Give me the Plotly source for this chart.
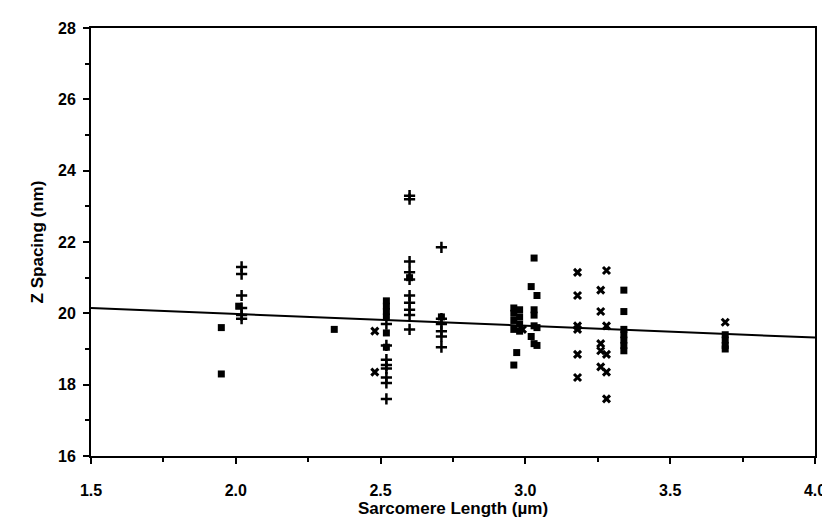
import plotly.graph_objects as go

# Square markers
sq_x = [1.95, 1.95, 2.01, 2.34,
        2.52, 2.52, 2.52, 2.52, 2.52, 2.52,
        2.60, 2.71,
        2.96, 2.98, 2.96, 2.98, 2.96, 2.98, 2.96, 2.98, 2.97, 2.96,
        3.03, 3.02, 3.04, 3.03, 3.03, 3.03, 3.04, 3.02, 3.03, 3.04,
        3.34, 3.34, 3.34, 3.34, 3.34, 3.34, 3.34,
        3.69, 3.69, 3.69, 3.69]
sq_y = [19.6, 18.3, 20.2, 19.55,
        20.35, 20.2, 20.05, 19.9, 19.45, 19.05,
        21.0, 19.9,
        20.15, 20.1, 20.0, 19.9, 19.8, 19.7, 19.55, 19.5, 18.9, 18.55,
        21.55, 20.75, 20.5, 20.1, 19.95, 19.65, 19.6, 19.35, 19.15, 19.1,
        20.65, 20.05, 19.55, 19.4, 19.25, 19.1, 18.95,
        19.4, 19.25, 19.1, 19.0]

# Plus markers
pl_x = [2.02, 2.02, 2.02, 2.02, 2.02, 2.02,
        2.52, 2.52, 2.52, 2.52, 2.52, 2.52, 2.52, 2.52,
        2.60, 2.60, 2.60, 2.60, 2.60, 2.60, 2.60, 2.60, 2.60, 2.60,
        2.71, 2.71, 2.71, 2.71, 2.71, 2.71]
pl_y = [21.3, 21.1, 20.5, 20.15, 19.95, 19.85,
        19.7, 19.1, 18.7, 18.55, 18.45, 18.2, 18.05, 17.6,
        23.3, 23.2, 21.45, 21.15, 20.95, 20.5, 20.3, 20.1, 19.95, 19.55,
        21.85, 19.85, 19.7, 19.5, 19.35, 19.05]

# X markers
xx_x = [2.48, 2.48, 2.99,
        3.18, 3.18, 3.18, 3.18, 3.18, 3.18,
        3.26, 3.26, 3.26, 3.26, 3.26,
        3.28, 3.28, 3.28, 3.28, 3.28,
        3.69]
xx_y = [19.5, 18.35, 19.55,
        21.15, 20.5, 19.65, 19.55, 18.85, 18.2,
        20.65, 20.05, 19.15, 18.95, 18.5,
        21.2, 19.65, 18.85, 18.35, 17.6,
        19.75]

# Regression line end points
fit_x = [1.5, 4.0]
fit_y = [20.15, 19.32]

x_ticks = [1.5, 2.0, 2.5, 3.0, 3.5, 4.0]
y_ticks = [16, 18, 20, 22, 24, 26, 28]

fig = go.Figure()
fig.add_trace(go.Scatter(x=fit_x, y=fit_y, mode="lines",
                         line=dict(color="black", width=2), showlegend=False))
fig.add_trace(go.Scatter(x=sq_x, y=sq_y, mode="markers",
                         marker=dict(symbol="square", size=7, color="black"),
                         showlegend=False))
fig.add_trace(go.Scatter(x=pl_x, y=pl_y, mode="markers",
                         marker=dict(symbol="cross-thin", size=8,
                                     line=dict(color="black", width=2.5)),
                         showlegend=False))
fig.add_trace(go.Scatter(x=xx_x, y=xx_y, mode="markers",
                         marker=dict(symbol="x-thin", size=7,
                                     line=dict(color="black", width=3)),
                         showlegend=False))

tickfont = dict(family="Liberation Sans, Arial, sans-serif", size=16, color="black")
titlefont = dict(family="Liberation Sans, Arial, sans-serif", size=17, color="black")

fig.update_layout(
    width=830, height=519,
    margin=dict(l=83, r=13, t=16, b=67),
    plot_bgcolor="white", paper_bgcolor="white",
    xaxis=dict(range=[1.5, 4.0], tickvals=x_ticks,
               ticktext=["<b>%.1f</b>" % v for v in x_ticks],
               ticks="outside", ticklen=6, tickwidth=2, tickcolor="black",
               minor=dict(tickvals=[1.75, 2.25, 2.75, 3.25, 3.75], ticks="outside",
                          ticklen=4, tickwidth=1.5, tickcolor="black"),
               showline=True, linecolor="black", linewidth=2, mirror=True,
               showgrid=False, zeroline=False, tickfont=tickfont,
               ticklabelstandoff=13,
               title=dict(text="<b>Sarcomere Length (\u00b5m)</b>", font=titlefont, standoff=4)),
    yaxis=dict(range=[16, 28], tickvals=y_ticks,
               ticktext=["<b>%d</b>" % v for v in y_ticks],
               ticks="outside", ticklen=6, tickwidth=2, tickcolor="black",
               minor=dict(tickvals=[17, 19, 21, 23, 25, 27], ticks="outside",
                          ticklen=4, tickwidth=1.5, tickcolor="black"),
               showline=True, linecolor="black", linewidth=2, mirror=True,
               showgrid=False, zeroline=False, tickfont=tickfont,
               ticklabelstandoff=4,
               title=dict(text="<b>Z Spacing (nm)</b>", font=titlefont, standoff=10)),
)

fig.write_html("out.html")
